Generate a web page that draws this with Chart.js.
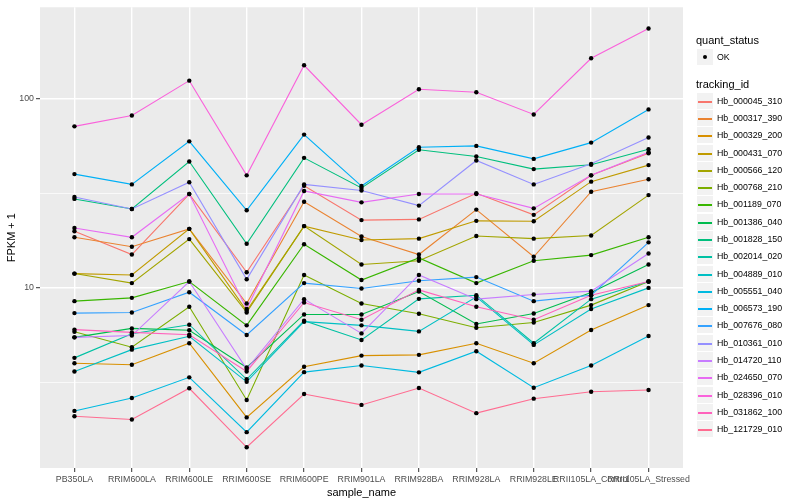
<!DOCTYPE html>
<html><head><meta charset="utf-8">
<script src="https://cdn.jsdelivr.net/npm/chart.js@4.4.1/dist/chart.umd.min.js"></script>
<style>
html,body{margin:0;padding:0;background:#fff;}
#wrap{position:relative;width:800px;height:500px;font-family:"Liberation Sans",Arial,sans-serif;overflow:hidden;}
#c{position:absolute;left:0;top:0;}
.lg{position:absolute;white-space:nowrap;color:#000;}
.ttl{font-size:11px;line-height:14px;height:14px;}
.lab{font-size:8.8px;line-height:12px;height:12px;}
.key{position:absolute;background:#F2F2F2;}
.kl{position:absolute;height:1.5px;}
.kd{position:absolute;width:4px;height:4px;border-radius:2px;background:#000;}
</style></head>
<body><div id="wrap"><canvas id="c" width="800" height="500"></canvas><div id="legend"></div></div>
<script>
// ---- data (FPKM + 1) ----
const categories = ["PB350LA","RRIM600LA","RRIM600LE","RRIM600SE","RRIM600PE","RRIM901LA","RRIM928BA","RRIM928LA","RRIM928LE","RRII105LA_Control","RRII105LA_Stressed"];
const trackingIds = ["Hb_000045_310","Hb_000317_390","Hb_000329_200","Hb_000431_070","Hb_000566_120","Hb_000768_210","Hb_001189_070","Hb_001386_040","Hb_001828_150","Hb_002014_020","Hb_004889_010","Hb_005551_040","Hb_006573_190","Hb_007676_080","Hb_010361_010","Hb_014720_110","Hb_024650_070","Hb_028396_010","Hb_031862_100","Hb_121729_010"];
const seriesColors = ["#F8766D","#EA8331","#D89000","#C09B00","#A3A500","#7CAE00","#39B600","#00BB4E","#00BF7D","#00C1A3","#00BFC4","#00BAE0","#00B0F6","#35A2FF","#9590FF","#C77CFF","#E76BF3","#FA62DB","#FF62BC","#FF6C91"];
const yTickValues = [10, 100];
const yMinorValues = [3.1623, 31.623];

const Hb_000045_310 = [19.9, 15.0, 31.3, 12.1, 34.6, 22.8, 23.0, 31.6, 24.3, 39.3, 51.4];
const Hb_000317_390 = [18.5, 16.5, 20.5, 8.27, 28.5, 18.7, 15.0, 25.9, 14.6, 32.2, 37.5];
const Hb_000329_200 = [4.00, 3.93, 5.10, 2.07, 3.83, 4.39, 4.43, 5.10, 4.00, 5.99, 8.11];
const Hb_000431_070 = [11.9, 11.7, 20.5, 7.57, 21.2, 17.9, 18.2, 22.6, 22.5, 36.4, 44.5];
const Hb_000566_120 = [11.9, 10.6, 18.1, 7.42, 21.2, 13.3, 13.9, 18.8, 18.2, 18.9, 30.9];
const Hb_000768_210 = [5.87, 4.86, 7.95, 2.56, 11.7, 8.27, 7.30, 6.16, 6.57, 8.11, 10.8];
const Hb_001189_070 = [8.51, 8.86, 10.8, 6.34, 17.0, 11.0, 14.4, 10.6, 13.9, 14.9, 18.5];
const Hb_001386_040 = [5.48, 6.11, 5.97, 3.80, 7.24, 7.24, 9.56, 6.45, 7.33, 9.45, 13.3];
const Hb_001828_150 = [29.5, 26.1, 46.5, 17.1, 48.6, 33.7, 53.6, 49.4, 42.4, 44.7, 54.0];
const Hb_002014_020 = [4.27, 5.73, 6.39, 3.29, 6.71, 5.31, 8.75, 9.15, 5.10, 8.72, 10.8];
const Hb_004889_010 = [3.62, 4.72, 5.55, 3.19, 6.63, 6.34, 5.89, 8.97, 5.00, 7.73, 10.0];
const Hb_005551_040 = [2.24, 2.62, 3.37, 1.73, 3.59, 3.89, 3.58, 4.63, 2.97, 3.89, 5.57];
const Hb_006573_190 = [39.9, 35.2, 59.4, 25.7, 64.5, 34.5, 55.3, 56.2, 48.0, 58.5, 87.6];
const Hb_007676_080 = [7.36, 7.42, 9.49, 5.64, 10.6, 9.92, 10.9, 11.4, 8.51, 9.15, 17.4];
const Hb_010361_010 = [30.2, 26.1, 36.1, 11.1, 35.2, 32.7, 27.2, 47.1, 35.2, 45.2, 62.2];
const Hb_014720_110 = [5.48, 5.60, 10.8, 3.73, 8.72, 5.75, 11.7, 8.72, 9.22, 9.61, 15.2];
const Hb_024650_070 = [20.7, 18.5, 31.3, 7.75, 32.5, 28.3, 31.3, 31.3, 26.3, 39.3, 52.0];
const Hb_028396_010 = [71.3, 81.4, 124.3, 39.3, 149.8, 72.7, 112.0, 108.0, 82.4, 163.1, 234.4];
const Hb_031862_100 = [6.02, 5.82, 5.66, 3.62, 8.37, 6.79, 9.76, 7.95, 6.79, 9.15, 10.8];
const Hb_121729_010 = [2.10, 2.02, 2.95, 1.44, 2.75, 2.41, 2.96, 2.18, 2.60, 2.83, 2.89];

const seriesValues = [Hb_000045_310, Hb_000317_390, Hb_000329_200, Hb_000431_070, Hb_000566_120, Hb_000768_210, Hb_001189_070, Hb_001386_040, Hb_001828_150, Hb_002014_020, Hb_004889_010, Hb_005551_040, Hb_006573_190, Hb_007676_080, Hb_010361_010, Hb_014720_110, Hb_024650_070, Hb_028396_010, Hb_031862_100, Hb_121729_010];

// ---- chart ----
const FONT = '"Liberation Sans", Arial, sans-serif';
const toXY = arr => arr.map((v, i) => ({x: i + 1, y: v}));

const datasets = seriesValues.map((vals, i) => ({
  label: trackingIds[i],
  data: toXY(vals),
  borderColor: seriesColors[i],
  backgroundColor: seriesColors[i],
  borderWidth: 1.1,
  pointRadius: 0,
  pointHoverRadius: 0,
  fill: false,
  tension: 0,
  order: 20 - i
}));
const allPoints = [];
seriesValues.forEach(vals => toXY(vals).forEach(p => allPoints.push(p)));
datasets.push({
  label: 'points',
  data: allPoints,
  showLine: false,
  pointRadius: 2.2,
  pointBackgroundColor: '#000',
  pointBorderWidth: 0,
  order: -1
});

const bgPlugin = {
  id: 'panelBg',
  beforeDraw(chart) {
    const {ctx, chartArea: {left, top, width, height}} = chart;
    ctx.save();
    ctx.fillStyle = '#EBEBEB';
    ctx.fillRect(left, top, width, height);
    ctx.restore();
  }
};

new Chart(document.getElementById('c'), {
  type: 'line',
  data: {datasets},
  options: {
    responsive: false,
    animation: false,
    events: [],
    layout: {padding: {left: 0, top: 5, right: 117, bottom: 0}},
    plugins: {legend: {display: false}, tooltip: {enabled: false}},
    scales: {
      x: {
        type: 'linear',
        min: 0.4, max: 11.6,
        afterBuildTicks: s => { s.ticks = categories.map((_, i) => ({value: i + 1})); },
        afterFit: s => { s.height = 32; },
        border: {display: false},
        grid: {color: '#FFFFFF', lineWidth: 1.4, drawTicks: true, tickLength: 4, tickColor: '#333333', tickWidth: 1},
        ticks: {
          autoSkip: false, maxRotation: 0, minRotation: 0, padding: 2,
          color: '#4D4D4D', font: {family: FONT, size: 8.8},
          callback: v => categories[Math.round(v) - 1]
        },
        title: {display: true, text: 'sample_name', color: '#000', font: {family: FONT, size: 11}, padding: {top: 2.4, bottom: 0}}
      },
      y: {
        type: 'logarithmic',
        min: 1.119, max: 303.3,
        afterBuildTicks: s => {
          s.ticks = yMinorValues.concat(yTickValues).sort((a, b) => a - b).map(v => ({value: v}));
        },
        afterFit: s => { s.width = 40; },
        border: {display: false},
        grid: {
          color: '#FFFFFF',
          lineWidth: c => (c.tick && yTickValues.includes(c.tick.value)) ? 1.4 : 0.7,
          drawTicks: true, tickLength: 4,
          tickColor: c => (c.tick && yTickValues.includes(c.tick.value)) ? '#333333' : 'rgba(0,0,0,0)',
          tickWidth: 1
        },
        ticks: {
          padding: 2, color: '#4D4D4D', font: {family: FONT, size: 8.8},
          callback: v => yTickValues.includes(v) ? String(v) : ''
        },
        title: {display: true, text: 'FPKM + 1', color: '#000', font: {family: FONT, size: 11}, padding: {top: 5.4, bottom: 0}}
      }
    }
  },
  plugins: [bgPlugin]
});

// ---- legend (HTML text) ----
const lg = document.getElementById('legend');
function add(html) { lg.insertAdjacentHTML('beforeend', html); }
add('<div class="lg ttl" style="left:696px;top:33px;">quant_status</div>');
add('<div class="key" style="left:697px;top:49px;width:16px;height:16px;"></div>');
add('<div class="kd" style="left:703px;top:55px;"></div>');
add('<div class="lg lab" style="left:717px;top:51px;">OK</div>');
add('<div class="lg ttl" style="left:696px;top:77px;">tracking_id</div>');
const step = 17.29, y0 = 100.7;
trackingIds.forEach((id, i) => {
  const cy = Math.round(y0 + i * step);
  add('<div class="key" style="left:697px;top:' + (cy - 8) + 'px;width:16px;height:16px;"></div>');
  add('<div class="kl" style="left:698px;width:14px;top:' + cy + 'px;background:' + seriesColors[i] + ';"></div>');
  add('<div class="lg lab" style="left:717px;top:' + (cy - 6) + 'px;">' + id + '</div>');
});
</script>
</body></html>
